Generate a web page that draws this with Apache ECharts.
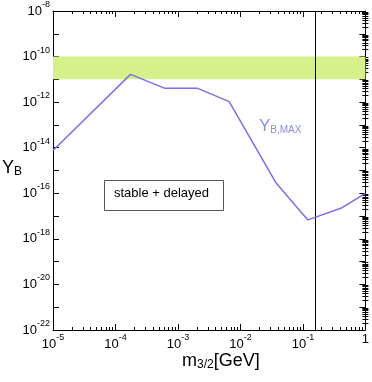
<!DOCTYPE html>
<html><head><meta charset="utf-8">
<script src="https://cdn.jsdelivr.net/npm/echarts@6/dist/echarts.min.js"></script>
<style>html,body{margin:0;padding:0;background:#fff}#c{width:372px;height:382px}</style>
</head><body><div id="c"></div>
<script>
// ---- data ----
const massGeV = [1e-5, 1.74e-4, 6.05e-4, 2.03e-3, 6.6e-3, 3.67e-2, 0.12, 0.404, 1];
const yBMax   = [7.6e-15, 1.66e-11, 4.1e-12, 4.1e-12, 1.05e-12, 3.0e-16, 6.8e-18, 2.2e-17, 1e-16];
const bandRange = [1e-11, 1e-10];
const verticalLineMass = 0.158;
// ---- ticks ----
const xLabelExps = [-5, -4, -3, -2, -1, 0];
const yLabelExps = [-22, -20, -18, -16, -14, -12, -10, -8];
const yDecadeExps = [-22, -21, -20, -19, -18, -17, -16, -15, -14, -13, -12, -11, -10, -9, -8];
const minorMultipliers = [2, 3, 4, 5, 6, 7, 8, 9];

const FONT = 'Liberation Sans';
const lg = Math.log10;
function minorTicks(exps) {
  const out = [];
  for (let i = 0; i < exps.length - 1; i++) minorMultipliers.forEach(m => out.push(exps[i] + lg(m)));
  return out;
}
const xMinor = minorTicks(xLabelExps);
const yMinor = minorTicks(yDecadeExps);

const rich = {
  b: { fontSize: 13, fontFamily: FONT, color: '#000' },
  s: { fontSize: 9, fontFamily: FONT, color: '#000', padding: [0, 0, 13, 0] }
};
function pow10Label(v) {
  const n = Math.round(v);
  if (n === 0) return '{b|1}';
  return '{b|10}{s|' + n + '}';
}
const lineStyle = { color: '#000', width: 1 };

function xAx(pos, opts) {
  return Object.assign({
    type: 'value', position: pos, min: -5, max: 0, interval: 1,
    axisLine: { show: true, onZero: false, lineStyle },
    axisTick: { show: true, inside: true, length: 6, lineStyle },
    axisLabel: { show: false },
    splitLine: { show: false }
  }, opts);
}
function yAx(pos, opts) {
  return Object.assign({
    type: 'value', position: pos, min: -22, max: -8, interval: 1,
    axisLine: { show: true, onZero: false, lineStyle },
    axisTick: { show: true, inside: true, length: 6, lineStyle },
    axisLabel: { show: false },
    splitLine: { show: false }
  }, opts);
}

const chart = echarts.init(document.getElementById('c'), null, { renderer: 'canvas' });
chart.setOption({
  animation: false,
  backgroundColor: '#fff',
  grid: { left: 53, right: 2, top: 11, bottom: 52, containLabel: false },
  xAxis: [
    xAx('bottom', { axisLabel: { show: true, margin: 3, formatter: pow10Label, rich } }),
    xAx('bottom', { axisLine: { show: false }, axisTick: { show: true, inside: true, length: 3, lineStyle, customValues: xMinor } }),
    xAx('top', {}),
    xAx('top', { axisLine: { show: false }, axisTick: { show: true, inside: true, length: 3, lineStyle, customValues: xMinor } })
  ],
  yAxis: [
    yAx('left', { axisLabel: { show: true, margin: 3, formatter: pow10Label, rich, customValues: yLabelExps } }),
    yAx('left', { axisLine: { show: false }, axisTick: { show: true, inside: true, length: 3, lineStyle, customValues: yMinor } }),
    yAx('right', {}),
    yAx('right', { axisLine: { show: false }, axisTick: { show: true, inside: true, length: 3, lineStyle, customValues: yMinor } })
  ],
  series: [{
    type: 'line',
    xAxisIndex: 0, yAxisIndex: 0,
    data: massGeV.map((x, i) => [lg(x), lg(yBMax[i])]),
    showSymbol: false, symbol: 'none',
    lineStyle: { color: '#7B6EF4', width: 1.5 },
    z: 5,
    markArea: {
      silent: true,
      itemStyle: { color: '#d6f18a', opacity: 1 },
      data: [[{ yAxis: lg(bandRange[0]) }, { yAxis: lg(bandRange[1]) }]]
    },
    markLine: {
      silent: true, symbol: 'none', label: { show: false },
      lineStyle: { color: '#000', width: 1, type: 'solid' },
      data: [{ xAxis: lg(verticalLineMass) }]
    }
  }],
  graphic: [
    { type: 'rect', left: 104, top: 180, shape: { width: 119, height: 30 },
      style: { fill: '#fff', stroke: '#555', lineWidth: 1 }, z: 10 },
    { type: 'text', left: 114, top: 187, z: 11,
      style: { text: 'stable + delayed', font: '13px "Liberation Sans"', fill: '#000' } },
    { type: 'text', left: 2, top: 159, z: 11,
      style: { text: '{m|Y}{s|B}', rich: {
        m: { fontSize: 18, fontFamily: FONT, fill: '#000' },
        s: { fontSize: 12, fontFamily: FONT, fill: '#000', padding: [8, 0, 0, 0] } } } },
    { type: 'text', left: 182, top: 352, z: 11,
      style: { text: '{m|m}{s|3/2}{m|[GeV]}', rich: {
        m: { fontSize: 18, fontFamily: FONT, fill: '#000' },
        s: { fontSize: 12, fontFamily: FONT, fill: '#000', padding: [8, 0, 0, 0] } } } },
    { type: 'text', left: 259, top: 118, z: 11,
      style: { text: '{m|Y}{s|B,MAX}', rich: {
        m: { fontSize: 17, fontFamily: FONT, fill: '#8a8cf2' },
        s: { fontSize: 10, fontFamily: FONT, fill: '#8a8cf2', padding: [8, 0, 0, 0] } } } }
  ]
});
</script></body></html>
